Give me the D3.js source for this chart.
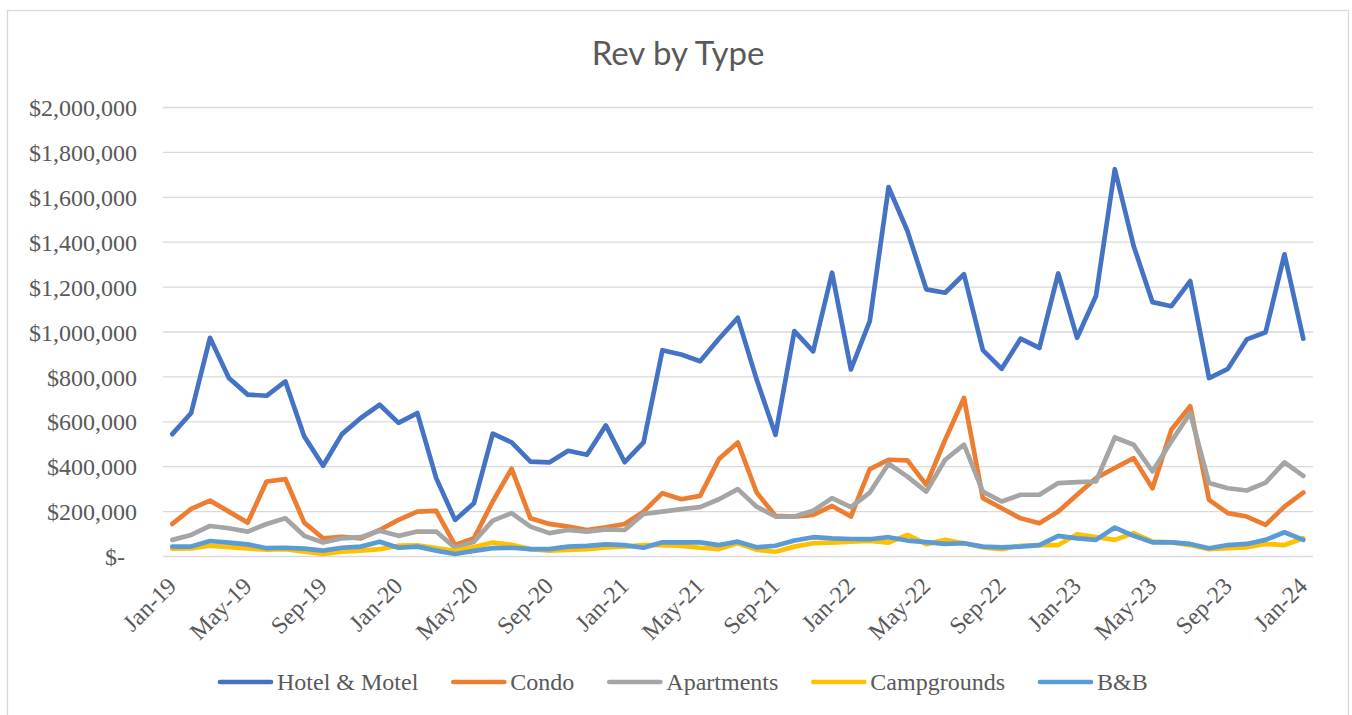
<!doctype html>
<head>
  <style>
    html, body {
      margin: 0;
      padding: 0;
      background: #fff;
    }
    svg text {
      fill: #595959;
    }
    .axis text {
      font: 24px "Liberation Serif", "Times New Roman", serif;
    }
    .axis path.domain {
      display: none;
    }
    .grid line {
      stroke: #d9d9d9;
      stroke-width: 1.3px;
    }
    .series path {
      fill: none;
      stroke-width: 4.7px;
      stroke-linejoin: round;
      stroke-linecap: round;
    }
    .legend text {
      font: 24px "Liberation Serif", "Times New Roman", serif;
    }
  </style>
  <script src="https://cdnjs.cloudflare.com/ajax/libs/d3/7.8.5/d3.min.js"></script>
</head>

<body>
  <svg id='chart' width='1352' height='715'></svg>

  <script>
    // month labels, Jan-19 .. Jan-24
    var months = ['Jan-19','Feb-19','Mar-19','Apr-19','May-19','Jun-19','Jul-19','Aug-19','Sep-19','Oct-19','Nov-19','Dec-19',
                  'Jan-20','Feb-20','Mar-20','Apr-20','May-20','Jun-20','Jul-20','Aug-20','Sep-20','Oct-20','Nov-20','Dec-20',
                  'Jan-21','Feb-21','Mar-21','Apr-21','May-21','Jun-21','Jul-21','Aug-21','Sep-21','Oct-21','Nov-21','Dec-21',
                  'Jan-22','Feb-22','Mar-22','Apr-22','May-22','Jun-22','Jul-22','Aug-22','Sep-22','Oct-22','Nov-22','Dec-22',
                  'Jan-23','Feb-23','Mar-23','Apr-23','May-23','Jun-23','Jul-23','Aug-23','Sep-23','Oct-23','Nov-23','Dec-23',
                  'Jan-24'];
    var tickMonths = ['Jan-19','May-19','Sep-19','Jan-20','May-20','Sep-20','Jan-21','May-21','Sep-21',
                      'Jan-22','May-22','Sep-22','Jan-23','May-23','Sep-23','Jan-24'];
    var yTicks = [0, 200000, 400000, 600000, 800000, 1000000, 1200000, 1400000, 1600000, 1800000, 2000000];

    // values in $ thousands
    var hotel = [545,639,974,795,721,716,780,535,404,545,617,676,595,639,349,163,237,547,508,423,419,
                 471,453,584,420,508,919,900,870,970,1063,788,542,1004,914,1264,833,1048,1645,1450,1190,
                 1175,1257,919,836,970,929,1261,974,1160,1725,1383,1133,1115,1227,795,836,967,999,1346,970];
    var condo = [145,212,249,200,151,334,345,151,81,88,81,118,163,200,203,51,81,245,391,170,145,
                 133,118,130,145,200,282,255,270,434,508,285,181,178,185,225,178,389,431,428,319,
                 520,706,260,215,170,148,200,275,349,394,438,304,565,669,252,193,178,141,222,285];
    var apartments = [74,96,136,126,111,145,170,92,62,81,86,115,92,111,111,39,66,160,193,133,104,
                      118,111,121,118,190,200,211,220,255,300,222,178,178,204,260,220,285,413,356,289,
                      431,498,289,245,275,275,327,331,334,530,498,379,513,639,327,304,294,329,419,359];
    var campgrounds = [35,36,48,42,36,30,33,22,12,22,26,33,48,50,38,25,42,62,52,33,26,
                       29,33,41,44,51,51,47,39,33,59,30,21,44,59,62,66,69,62,96,55,
                       74,59,41,33,48,51,51,99,87,74,104,66,63,51,33,37,41,56,51,81];
    var bnb = [44,44,69,62,54,37,39,35,26,39,44,66,39,44,26,11,25,37,39,33,33,
               44,47,54,51,39,63,63,63,51,66,41,48,71,86,81,78,77,86,71,64,
               56,59,44,41,44,51,92,81,74,129,92,63,63,56,37,51,56,74,108,74];

    var seriesNames = ['Hotel & Motel', 'Condo', 'Apartments', 'Campgrounds', 'B&B'];
    var colors = ['#4472c4', '#ed7d31', '#a5a5a5', '#ffc000', '#5b9bd5'];
    var series = [hotel, condo, apartments, campgrounds, bnb];

    var svg = d3.select('svg#chart');

    // chart frame
    svg.append('rect')
        .attr('x', 7.5)
        .attr('y', 10.5)
        .attr('width', 1341)
        .attr('height', 730)
        .attr('fill', 'none')
        .attr('stroke', '#d9d9d9')
        .attr('stroke-width', 1.3);

    svg.append('text')
        .attr('x', 678)
        .attr('y', 65)
        .attr('text-anchor', 'middle')
        .style('font', '33px Lato, "Open Sans", sans-serif')
        .text('Rev by Type');

    var x = d3.scalePoint()
        .domain(months)
        .range([172.3, 1303.3]);

    var y = d3.scaleLinear()
        .domain([0, 2000000])
        .range([556.5, 107.5]);

    // gridlines
    svg.append('g')
        .attr('class', 'grid')
        .selectAll('line')
        .data(yTicks)
        .enter().append('line')
        .attr('x1', 163)
        .attr('x2', 1313)
        .attr('y1', function(d) { return y(d); })
        .attr('y2', function(d) { return y(d); });

    var yAxis = svg.append('g')
        .attr('class', 'axis')
        .attr('transform', 'translate(137,0)')
        .call(d3.axisLeft(y)
            .tickValues(yTicks)
            .tickSize(0)
            .tickPadding(0)
            .tickFormat(function(d) { return d === 0 ? '$-' : d3.format('$,')(d); }));
    yAxis.selectAll('text')
        .attr('dy', '0.34em')
        .filter(function(d) { return d === 0; })
        .attr('x', -12);

    var xAxis = svg.append('g')
        .attr('class', 'axis')
        .attr('transform', 'translate(0,556.5)')
        .call(d3.axisBottom(x)
            .tickValues(tickMonths)
            .tickSize(0));
    xAxis.selectAll('text')
        .attr('x', 0)
        .attr('y', 0)
        .attr('dy', 0)
        .attr('text-anchor', 'end')
        .attr('transform', 'translate(5,31) rotate(-45)');

    var line = d3.line()
        .x(function(d, i) { return x(months[i]); })
        .y(function(d) { return y(d * 1000); });

    svg.append('g')
        .attr('class', 'series')
        .selectAll('path')
        .data(series)
        .enter().append('path')
        .attr('stroke', function(d, i) { return colors[i]; })
        .attr('d', line);

    // legend
    var legend = svg.append('g').attr('class', 'legend');
    var lx = 218, ly = 682;
    seriesNames.forEach(function(name, i) {
      legend.append('line')
          .attr('x1', lx + 2)
          .attr('x2', lx + 53)
          .attr('y1', ly)
          .attr('y2', ly)
          .attr('stroke', colors[i])
          .attr('stroke-width', 4.7)
          .attr('stroke-linecap', 'round');
      var t = legend.append('text')
          .attr('x', lx + 59)
          .attr('y', ly + 8)
          .text(name);
      lx += 59 + t.node().getComputedTextLength() + 33;
    });
  </script>
</body>
